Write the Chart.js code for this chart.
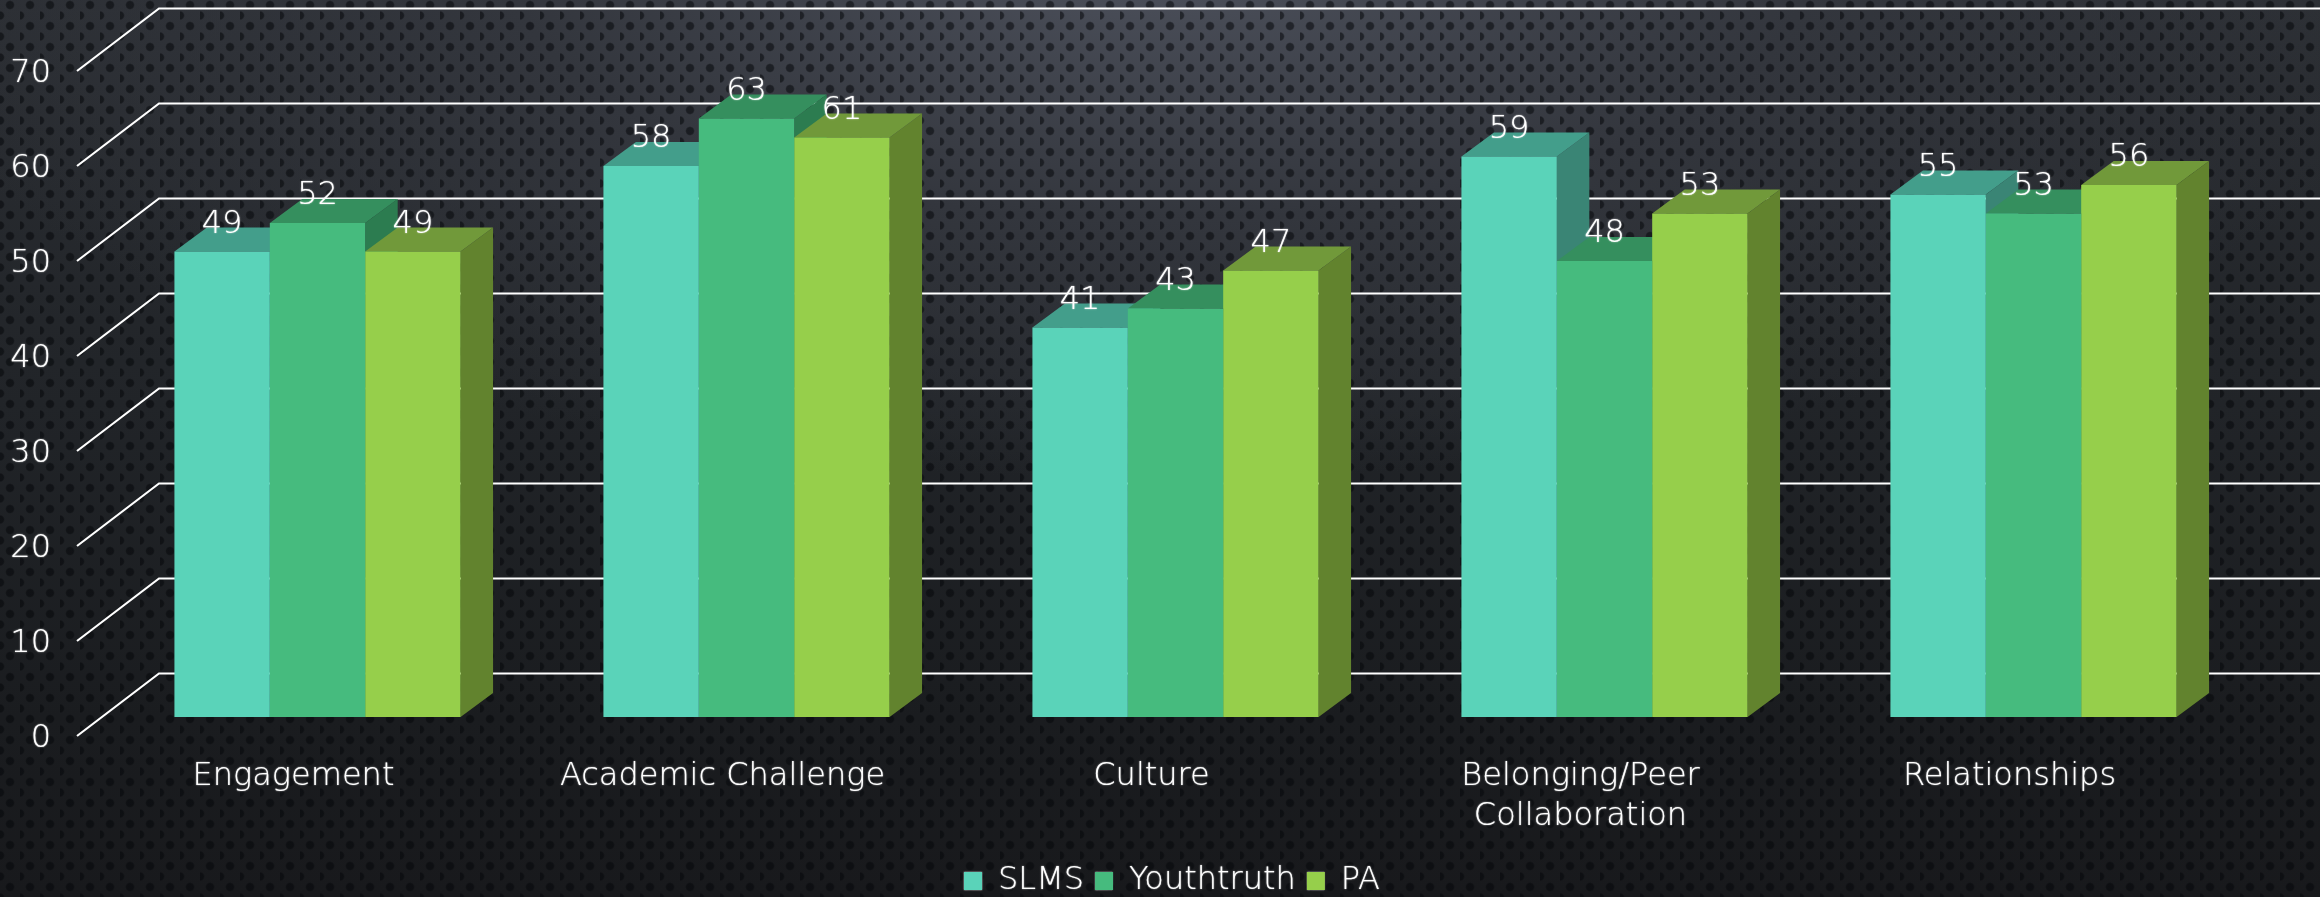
<!DOCTYPE html>
<html>
<head>
<meta charset="utf-8">
<style>
html,body{margin:0;padding:0;width:2320px;height:897px;overflow:hidden;background-color:#1b1d20;}
body{background-image:
 radial-gradient(circle at 10px 5px, rgba(5,7,10,.55) 3.4px, rgba(5,7,10,0) 4.8px),
 radial-gradient(circle at 0px 15.5px, rgba(5,7,10,.55) 3.4px, rgba(5,7,10,0) 4.8px),
 radial-gradient(ellipse 1300px 520px at 1160px -40px, #4d515c 0%, #33363d 50%, rgba(40,43,48,0) 100%),
 linear-gradient(180deg,#2b2e33 0%,#212428 45%,#1a1c1f 80%,#18191c 100%);
 background-size:20px 21px,20px 21px,100% 100%,100% 100%;
 background-repeat:repeat,repeat,no-repeat,no-repeat;}
canvas{position:absolute;left:0;top:0;}
</style>
<script src="https://cdn.jsdelivr.net/npm/chart.js@4"></script>
</head>
<body>
<div style="position:absolute;left:0;top:0;width:2320px;height:897px;"><canvas id="c" width="2320" height="897"></canvas></div>
<script>
const categories = ['Engagement','Academic Challenge','Culture',['Belonging/Peer','Collaboration'],'Relationships'];
const slms = [49,58,41,59,55];
const youthtruth = [52,63,43,48,53];
const pa = [49,61,47,53,56];
const seriesNames = ['SLMS','Youthtruth','PA'];
const frontColors = ['#5AD3B9','#46BB7E','#96CF4B'];
const topColors = ['#439E8B','#358F5E','#71993A'];
const sideColors = ['#3A8575','#2C7C50','#62832E'];
const yMax = 70, yStep = 10;

const FONT = '"DejaVu Sans"';
const DEPTH_X = 32.5, DEPTH_Y = 24;     // bar depth
const WALL_X = 159, WALL_DY = -43.5;    // back wall
const FLOOR_X = 77, FLOOR_DY = 19;      // front edge of the side wall
const txt = {family:FONT, size:32, weight:200, lineHeight:1.25};

const threeD = {
  id:'threeD',
  afterLayout(chart){
    // centre the legend where the reference has it, and lower it to its row
    chart.legend.left = 96; chart.legend.right = 2248;
    chart.legend.top += 10; chart.legend.bottom += 10;
  },
  beforeDraw(chart){
    // a faint white glow brightens the thin axis and legend text
    chart.ctx.shadowColor='rgba(255,255,255,.9)';
    chart.ctx.shadowBlur=1.5;
  },
  beforeDatasetsDraw(chart){
    const {ctx, scales:{y}} = chart;
    ctx.shadowColor='transparent';ctx.shadowBlur=0;
    const base = y.getPixelForValue(0);
    ctx.save();
    ctx.strokeStyle='#ffffff';
    ctx.lineWidth=2.2;
    y.ticks.forEach(t=>{
      const p = y.getPixelForValue(t.value);
      ctx.beginPath();
      ctx.moveTo(FLOOR_X,p+FLOOR_DY);
      ctx.lineTo(WALL_X,p+WALL_DY);
      ctx.lineTo(chart.width,p+WALL_DY);
      ctx.stroke();
    });
    // sides and tops, left to right; the fronts are drawn over them by the library
    chart.data.labels.forEach((_,j)=>{
      chart.data.datasets.forEach((d,i)=>{
        const b = chart.getDatasetMeta(i).data[j];
        const h=b.width/2, l=b.x-h, r=b.x+h, t=b.y;
        ctx.fillStyle=sideColors[i];
        ctx.beginPath();ctx.moveTo(r,t);ctx.lineTo(r+DEPTH_X,t-DEPTH_Y);ctx.lineTo(r+DEPTH_X,base-DEPTH_Y);ctx.lineTo(r,base);ctx.closePath();ctx.fill();
        ctx.fillStyle=topColors[i];
        ctx.beginPath();ctx.moveTo(l,t);ctx.lineTo(l+DEPTH_X,t-DEPTH_Y);ctx.lineTo(r+DEPTH_X,t-DEPTH_Y);ctx.lineTo(r,t);ctx.closePath();ctx.fill();
      });
    });
    ctx.restore();
  },
  afterDatasetsDraw(chart){
    const {ctx}=chart;
    ctx.save();
    ctx.fillStyle='#ffffff';
    ctx.shadowColor='rgba(255,255,255,.9)';ctx.shadowBlur=1.5;
    ctx.font=`${txt.weight} ${txt.size}px ${FONT}`;
    ctx.textAlign='center';ctx.textBaseline='middle';
    chart.data.datasets.forEach((d,i)=>{
      chart.getDatasetMeta(i).data.forEach((b,j)=>{
        ctx.fillText(String(d.data[j]),b.x,b.y-27);
      });
    });
    ctx.restore();
  }
};

new Chart(document.getElementById('c'),{
  type:'bar',
  data:{labels:categories,datasets:[
    {label:seriesNames[0],data:slms,backgroundColor:frontColors[0]},
    {label:seriesNames[1],data:youthtruth,backgroundColor:frontColors[1]},
    {label:seriesNames[2],data:pa,backgroundColor:frontColors[2]}
  ]},
  options:{
    responsive:false,animation:false,
    categoryPercentage:0.667,barPercentage:1,
    layout:{padding:{top:52,right:72,left:0,bottom:0}},
    plugins:{
      tooltip:{enabled:false},
      legend:{position:'bottom',labels:{color:'#fff',font:txt,boxWidth:18,boxHeight:18,padding:11}}
    },
    scales:{
      x:{grid:{display:false},border:{display:false},
         afterFit(s){s.height=127;s.paddingLeft=0;s.paddingRight=0;},
         ticks:{color:'#fff',font:txt,padding:32,labelOffset:-24,maxRotation:0,autoSkip:false}},
      y:{min:0,max:yMax,grid:{display:false},border:{display:false},
         afterFit(s){s.width=103;s.paddingTop=0;s.paddingBottom=0;},
         ticks:{stepSize:yStep,color:'#fff',font:txt,padding:44,labelOffset:FLOOR_DY+3}}
    }
  },
  plugins:[threeD]
});
</script>
</body>
</html>
